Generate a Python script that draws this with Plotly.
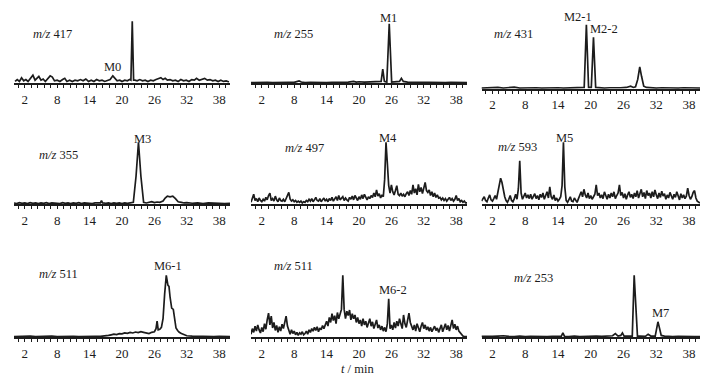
import plotly.graph_objects as go

# ---------------- data (intensity in % of the tallest peak of each panel) -------------
t_fine = [0, 0.25, 0.5, 0.75, 1, 1.25, 1.5, 1.75, 2, 2.25, 2.5, 2.75, 3, 3.25, 3.5, 3.75,
          4, 4.25, 4.5, 4.75, 5, 5.25, 5.5, 5.75, 6, 6.25, 6.5, 6.75, 7, 7.25, 7.5, 7.75,
          8, 8.25, 8.5, 8.75, 9, 9.25, 9.5, 9.75, 10, 10.25, 10.5, 10.75, 11, 11.25, 11.5, 11.75,
          12, 12.25, 12.5, 12.75, 13, 13.25, 13.5, 13.75, 14, 14.25, 14.5, 14.75, 15, 15.25, 15.5, 15.75,
          16, 16.25, 16.5, 16.75, 17, 17.25, 17.5, 17.75, 18, 18.25, 18.5, 18.75, 19, 19.25, 19.5, 19.75,
          20, 20.25, 20.5, 20.75, 21, 21.25, 21.5, 21.75, 22, 22.25, 22.5, 22.75, 23, 23.25, 23.5, 23.75,
          24, 24.25, 24.5, 24.75, 25, 25.25, 25.5, 25.75, 26, 26.25, 26.5, 26.75, 27, 27.25, 27.5, 27.75,
          28, 28.25, 28.5, 28.75, 29, 29.25, 29.5, 29.75, 30, 30.25, 30.5, 30.75, 31, 31.25, 31.5, 31.75,
          32, 32.25, 32.5, 32.75, 33, 33.25, 33.5, 33.75, 34, 34.25, 34.5, 34.75, 35, 35.25, 35.5, 35.75,
          36, 36.25, 36.5, 36.75, 37, 37.25, 37.5, 37.75, 38, 38.25, 38.5, 38.75, 39, 39.25, 39.5, 39.75, 40]

# m/z 417 (M0)
t_417 = [0.2, 0.6, 1.0, 1.4, 1.8, 2.2, 2.6, 3.0, 3.5, 3.9, 4.3, 4.6, 5.0, 5.4, 5.8, 6.3, 6.7, 7.1, 7.5, 8.0,
         8.5, 9.0, 9.4, 9.8, 10.3, 10.8, 11.3, 11.8, 12.3, 12.8, 13.3, 13.8, 14.3, 14.8, 15.3, 15.8, 16.3, 16.8,
         17.3, 17.8, 18.3, 18.7, 19.1, 19.6, 20.0, 20.5, 21.0, 21.4, 21.65, 21.9, 22.15, 22.4, 22.8, 23.3, 23.8,
         24.3, 24.8, 25.3, 25.8, 26.3, 26.8, 27.2, 27.6, 28.0, 28.4, 28.9, 29.4, 29.9, 30.4, 30.9, 31.4, 31.9,
         32.4, 32.9, 33.4, 33.8, 34.3, 34.8, 35.3, 35.8, 36.3, 36.8, 37.3, 37.8, 38.3, 38.8, 39.3, 39.8]
i_417 = [3, 6, 3, 9, 4, 6, 3, 7, 13, 5, 8, 11, 5, 7, 3, 8, 12, 10, 4, 5,
         3, 6, 8, 3, 5, 3, 5, 4, 6, 4, 7, 3, 5, 3, 6, 4, 5, 3,
         5, 6, 12, 7, 4, 5, 3, 5, 4, 6, 5, 100, 5, 5, 4, 6, 4,
         5, 3, 5, 4, 6, 7, 9, 6, 8, 5, 6, 4, 5, 3, 6, 4, 5,
         3, 6, 5, 8, 5, 6, 8, 5, 6, 4, 5, 3, 5, 3, 4, 2]

# m/z 255 (M1)
t_255 = [0, 1, 2, 3, 4, 5, 6, 7, 8, 8.6, 8.9, 9.3, 10, 11, 12, 13, 14, 15, 16, 17, 18, 18.6, 19, 19.5,
         20, 21, 22, 23, 23.7, 24.1, 24.4, 24.7, 25.15, 25.6, 26.05, 26.5, 27, 27.5, 27.85, 28.2,
         29, 30, 31, 32, 33, 34, 35, 36, 37, 38, 39, 40]
i_255 = [1, 1.5, 1, 1.5, 1, 1.5, 1, 1.5, 1.5, 3, 4, 2, 1, 1.5, 1, 1.5, 1, 1.5, 1, 1.5, 2, 2.5, 3, 2,
         2.5, 2, 2, 2.5, 2, 3, 23, 3, 2, 96, 2, 2, 2.5, 3, 8, 3,
         2, 1.5, 2, 1.5, 1.5, 1, 1.5, 1, 1.5, 1, 1.5, 1]

# m/z 431 (M2-1, M2-2)
t_431 = [0, 1, 2, 3, 4, 5, 6, 7, 8, 9, 10, 11, 12, 13, 14, 15, 16, 17, 18, 18.8, 19.2, 19.6, 20.1, 20.5,
         20.9, 21.5, 22.5, 23.5, 24.5, 25.5, 26.5, 27.3, 27.8, 28.2, 28.6, 28.97, 29.3, 29.7, 30.2,
         31, 32, 33, 34, 35, 36, 37, 38, 39, 40]
i_431 = [1, 1.5, 1, 2, 1, 1.5, 2.5, 1, 1.5, 1, 1.5, 1, 1.5, 1, 1.5, 1, 1.5, 1, 1.5, 2, 103, 2, 2, 83,
         2, 1.5, 1, 1.5, 1, 1.5, 2, 4, 2, 3, 15, 35, 20, 4, 2,
         1.5, 1, 1.5, 1, 1.5, 1, 1.5, 1, 1.5, 1]

# m/z 355 (M3)
t_355 = [0, 0.5, 1, 1.5, 2, 2.5, 3, 3.5, 4, 4.5, 5, 5.5, 6, 6.5, 7, 7.5, 8, 8.5, 9, 9.5, 10, 10.5, 11,
         11.5, 12, 12.5, 13, 13.5, 14, 14.5, 15, 15.5, 16, 16.2, 16.4, 17, 17.5, 18, 18.5, 19, 19.5, 20,
         20.5, 21, 21.5, 22.1, 22.6, 23.05, 23.5, 24.0, 24.5, 25, 25.5, 26, 26.5, 27, 27.6, 28, 28.4,
         28.9, 29.4, 29.9, 30.4, 31, 31.5, 32, 33, 34, 35, 36, 37, 38, 39, 40]
i_355 = [2, 1, 2.5, 1.5, 2, 1, 2.5, 1.5, 2, 1, 2, 1.5, 2.5, 1, 2, 1.5, 2, 1, 2.5, 1.5, 2, 1, 2,
         1.5, 2.5, 1, 2, 1.5, 2, 1, 2, 1.5, 2, 6, 2, 1.5, 2, 1, 2, 1.5, 2, 1,
         2, 1.5, 2, 3, 45, 100, 45, 3, 2, 3, 4, 2.5, 3.5, 3, 5, 10, 13,
         12, 13, 9, 4, 3, 2, 2.5, 1.5, 2, 1, 2, 1.5, 2, 1, 1.5]

# m/z 497 (M4), sampled on t_fine
i_497 = [3, 8, 16, 6, 9, 4, 10, 6, 4, 8, 5, 11, 7, 14, 18, 6,
         9, 5, 13, 7, 4, 10, 6, 5, 8, 4, 9, 12, 19, 8, 5, 7,
         4, 6, 3, 5, 3, 5, 2, 4, 3, 6, 4, 8, 5, 9, 4, 7,
         11, 6, 5, 9, 4, 7, 10, 5, 8, 4, 9, 6, 11, 5, 8, 12,
         6, 14, 7, 9, 12, 6, 10, 7, 5, 11, 8, 13, 7, 14, 9, 6,
         12, 8, 15, 9, 16, 10, 7, 12, 9, 14, 11, 18, 12, 23, 13, 17,
         10, 15, 12, 40, 100, 66, 30, 18, 31, 20, 15, 22, 30, 16, 14, 18,
         13, 16, 12, 17, 20, 14, 22, 16, 31, 18, 25, 15, 32, 20, 27, 17,
         24, 35, 22, 19, 23, 14, 20, 12, 18, 11, 15, 10, 11, 7, 10, 6,
         9, 5, 8, 11, 6, 9, 5, 8, 14, 6, 9, 4, 6, 3, 5, 2, 2]

# m/z 593 (M5), sampled on t_fine
i_593 = [5, 8, 12, 6, 4, 10, 15, 7, 5, 9, 14, 8, 20, 32, 42, 35,
         22, 12, 6, 3, 8, 14, 6, 4, 9, 16, 8, 25, 70, 18, 8, 14,
         18, 10, 15, 9, 16, 8, 12, 17, 9, 14, 7, 16, 11, 18, 8, 14,
         20, 10, 28, 12, 8, 15, 6, 10, 5, 8, 12, 30, 100, 28, 6, 3,
         8, 12, 5, 4, 10, 6, 3, 9, 14, 20, 12, 24, 15, 10, 18, 9,
         14, 8, 12, 16, 31, 14, 18, 10, 15, 9, 20, 12, 8, 16, 10, 18,
         12, 20, 9, 14, 18, 31, 14, 19, 10, 17, 8, 15, 20, 11, 16, 9,
         18, 12, 22, 10, 16, 24, 12, 19, 9, 22, 14, 18, 10, 20, 12, 23,
         15, 9, 18, 11, 21, 13, 17, 8, 15, 10, 19, 12, 8, 16, 11, 20,
         12, 7, 17, 10, 15, 9, 13, 26, 14, 8, 12, 19, 22, 10, 5, 3, 2]

# m/z 511 (M6-1)
t_511a = [0, 1, 2, 3, 4, 5, 6, 7, 8, 9, 10, 11, 12, 13, 14, 15, 16, 17, 17.5, 18, 18.5, 19, 19.5, 20,
          20.5, 21, 21.5, 22, 22.5, 23, 23.5, 24, 24.5, 25, 25.5, 26, 26.3, 26.5, 26.7, 27, 27.3, 27.6,
          27.9, 28.2, 28.5, 28.7, 28.9, 29.2, 29.5, 29.7, 30, 30.3, 30.6, 31, 31.5, 32, 33, 34, 35, 36,
          37, 38, 39, 40]
i_511a = [1, 1.5, 1, 2, 1, 1.5, 1, 2, 1, 1.5, 1, 1.5, 1, 1.5, 1, 1.5, 1.5, 2, 3, 4, 5, 4.5, 6, 5.5,
          7, 6.5, 8, 7, 8.5, 7.5, 9, 8, 7, 6, 8, 9, 14, 26, 12, 13, 16, 30,
          70, 100, 84, 82, 65, 47, 45, 30, 15, 11, 8, 6, 4, 2.5, 2, 1.5, 1, 1.5,
          1, 1.5, 1, 1]

# m/z 511 (M6-2), sampled on t_fine
i_511b = [5, 14, 8, 18, 10, 20, 12, 7, 16, 9, 22, 13, 28, 39, 20, 34,
          15, 24, 11, 19, 8, 17, 10, 21, 14, 26, 34, 18, 9, 5, 12, 6,
          10, 4, 8, 3, 7, 5, 9, 4, 6, 10, 5, 12, 8, 14, 10, 16,
          11, 17, 9, 15, 12, 19, 14, 22, 26, 18, 32, 24, 38, 27, 35, 22,
          40, 30, 36, 45, 100, 45, 30, 42, 35, 44, 28, 38, 30, 36, 24, 32,
          22, 28, 18, 30, 20, 26, 16, 24, 30, 18, 25, 14, 22, 28, 15, 20,
          12, 18, 10, 16, 9, 22, 62, 14, 20, 12, 24, 15, 26, 18, 30, 20,
          14, 36, 22, 16, 28, 39, 24, 18, 12, 20, 10, 22, 15, 9, 18, 24,
          14, 20, 12, 17, 10, 16, 9, 14, 18, 11, 15, 8, 13, 20, 9, 16,
          22, 12, 19, 10, 17, 28, 14, 21, 12, 18, 10, 7, 4, 2, 1, 1, 1]

# m/z 253 (M7)
t_253 = [0, 1, 2, 3, 4, 5, 6, 7, 8, 9, 10, 11, 12, 13, 14, 14.6, 14.9, 15.2, 16, 17, 18, 19, 20, 21,
         22, 23, 24, 24.5, 25, 25.5, 25.8, 26.1, 27, 27.6, 27.95, 28.2, 28.35, 28.55, 29, 30, 30.5, 31,
         31.8, 32.1, 32.3, 32.5, 32.9, 33.5, 34, 35, 36, 37, 38, 39, 40]
i_253 = [1.5, 1, 1.5, 2, 2.5, 1.5, 1, 2, 1, 1.5, 1, 1.5, 1, 1.5, 1, 1.5, 7, 1.5, 1, 2, 1, 1.5, 1, 2,
         1.5, 2, 2.5, 6, 2, 3, 7, 2, 2, 2, 100, 55, 40, 2, 2, 1.5, 5, 2,
         2, 18, 25, 18, 3, 2, 1.5, 1, 1.5, 1, 1.5, 1, 1]

mz_labels = ["417", "255", "431", "355", "497", "593", "511", "511", "253"]
tick_labels = [2, 8, 14, 20, 26, 32, 38]

panels = [
    (t_417, i_417), (t_255, i_255), (t_431, i_431),
    (t_355, i_355), (t_fine, i_497), (t_fine, i_593),
    (t_511a, i_511a), (t_fine, i_511b), (t_253, i_253),
]

# peak labels: (text, x px, y px)
peak_labels = [
    ("M0", 113, 66.5), ("M1", 388, 18), ("M2-1", 578, 16.5), ("M2-2", 604, 29),
    ("M3", 142, 139), ("M4", 388, 138), ("M5", 564, 138),
    ("M6-1", 168, 265.5), ("M6-2", 393, 289.5), ("M7", 660, 312.5),
]
mz_pos = [(31, 34), (272, 34), (492, 34), (37, 155), (283, 148), (496, 146.5),
          (37, 274), (272, 265.5), (512, 277.5)]

# ---------------- layout geometry (pixels) ----------------
W, H = 715, 376
col_px = [(14, 230), (251, 467), (481.5, 700)]
axis_px = [83.3, 83.3, 88.7, 204.2, 204.2, 204.2, 337.3, 337.3, 337.3]
YMAX = 105
FULL_PX = 62 * YMAX / 100.0

FONT = "Liberation Serif, Times New Roman, serif"
INK = "#1c1c1c"

fig = go.Figure()
layout = dict(
    width=W, height=H,
    margin=dict(l=0, r=0, t=0, b=0),
    paper_bgcolor="white", plot_bgcolor="white",
    showlegend=False,
    font=dict(family=FONT, size=12, color=INK),
)

for k, (tx, iy) in enumerate(panels):
    n = k + 1
    col = k % 3
    xa = "x" if n == 1 else f"x{n}"
    ya = "y" if n == 1 else f"y{n}"
    fig.add_trace(go.Scatter(x=tx, y=iy, mode="lines", xaxis=xa, yaxis=ya,
                             line=dict(color=INK, width=1.7), hoverinfo="skip"))
    x0, x1 = col_px[col]
    yb = axis_px[k]
    layout["xaxis" if n == 1 else f"xaxis{n}"] = dict(
        domain=[x0 / W, x1 / W], anchor=ya, range=[0, 40],
        showline=True, linecolor=INK, linewidth=2,
        showgrid=False, zeroline=False,
        tickmode="array", tickvals=tick_labels, ticktext=[str(v) for v in tick_labels],
        ticks="outside", ticklen=3, tickwidth=1, tickcolor=INK,
        minor=dict(ticks="outside", ticklen=3, tickwidth=1, tickcolor=INK,
                   tickmode="linear", tick0=2, dtick=1.2, showgrid=False),
        tickfont=dict(family=FONT, size=13, color=INK),
        ticklabelstandoff=0,
    )
    layout["yaxis" if n == 1 else f"yaxis{n}"] = dict(
        domain=[1 - yb / H, 1 - (yb - FULL_PX) / H], anchor=xa,
        range=[0, YMAX], visible=False, showgrid=False, zeroline=False,
    )

ann = []
for lab, (px, py) in zip(mz_labels, mz_pos):
    ann.append(dict(text=f"<i>m/z</i> {lab}", x=px / W, y=1 - py / H, xref="paper", yref="paper",
                    xanchor="left", yanchor="middle", showarrow=False,
                    font=dict(family=FONT, size=12.5, color=INK)))
for txt, px, py in peak_labels:
    ann.append(dict(text=txt, x=px / W, y=1 - py / H, xref="paper", yref="paper",
                    xanchor="center", yanchor="middle", showarrow=False,
                    font=dict(family=FONT, size=12.5, color=INK)))
ann.append(dict(text="<i>t</i> / min", x=357 / W, y=1 - 368.5 / H, xref="paper", yref="paper",
                xanchor="center", yanchor="middle", showarrow=False, borderpad=0,
                font=dict(family=FONT, size=12.5, color=INK)))
layout["annotations"] = ann

fig.update_layout(**layout)
fig.write_html("out.html",
               config={"displayModeBar": False, "staticPlot": True},
               post_script="document.body.style.margin='0';document.body.style.overflow='hidden';")
